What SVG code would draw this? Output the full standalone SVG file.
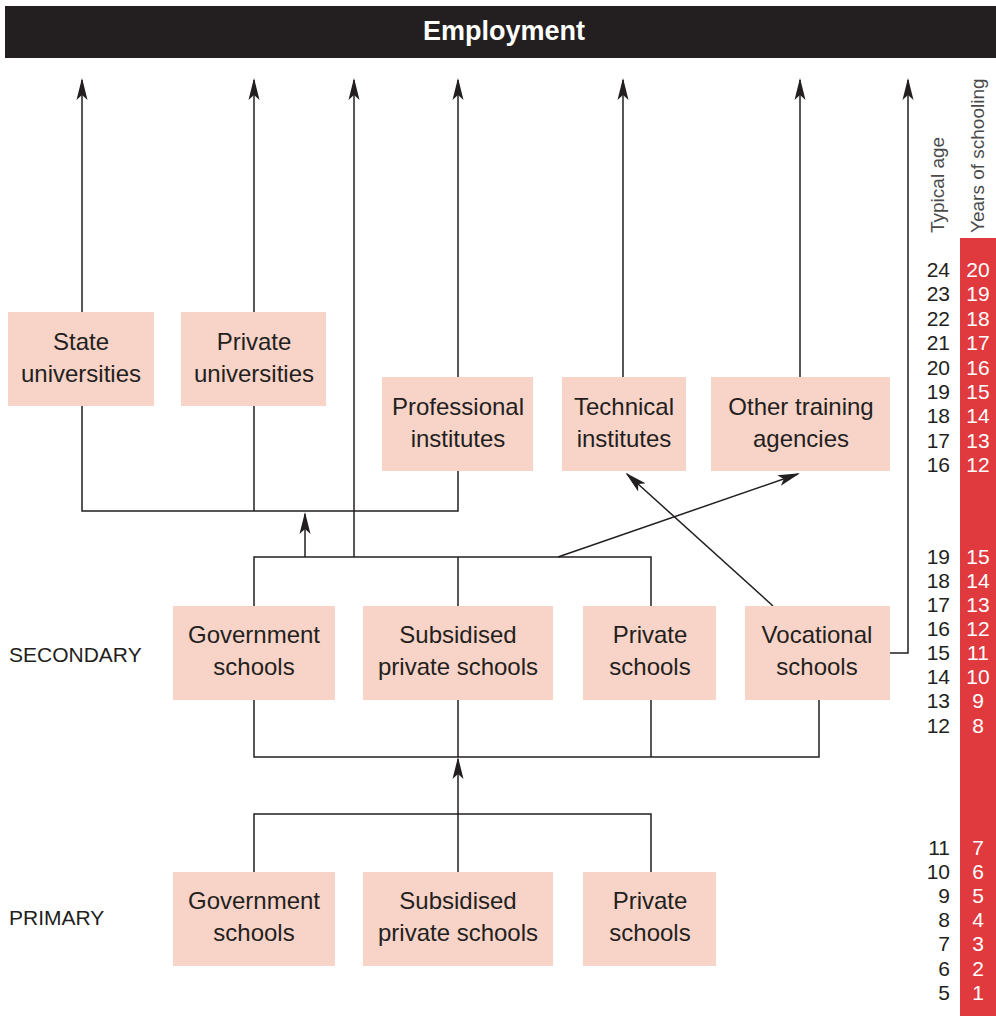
<svg xmlns="http://www.w3.org/2000/svg" width="996" height="1016" viewBox="0 0 996 1016">
<style>
.node rect{fill:#f8d3c8}
.nt{font-family:"Liberation Sans","DejaVu Sans",sans-serif;font-size:24px;fill:#231f20;text-anchor:middle}
.lbl{font-family:"Liberation Sans","DejaVu Sans",sans-serif;font-size:21px;fill:#231f20}
.age{font-family:"Liberation Sans","DejaVu Sans",sans-serif;font-size:21px;fill:#231f20;text-anchor:end}
.yr{font-family:"Liberation Sans","DejaVu Sans",sans-serif;font-size:21px;fill:#ffffff;text-anchor:middle}
.ax{font-family:"Liberation Sans","DejaVu Sans",sans-serif;font-size:19px;fill:#4a4a4a}
.c{stroke:#231f20;stroke-width:1.5;fill:none}
</style>
<defs>
<marker id="ah" markerWidth="22" markerHeight="12" refX="20" refY="6" orient="auto" markerUnits="userSpaceOnUse">
<path d="M22,6 L0,0.5 L5,6 L0,11.5 Z" fill="#231f20"/>
</marker>
</defs>
<g id="employment">
<rect x="5" y="6" width="991" height="52" fill="#231f20"/>
<text x="504" y="40" font-family="Liberation Sans, DejaVu Sans, sans-serif" font-size="27" font-weight="bold" fill="#ffffff" text-anchor="middle">Employment</text>
</g>
<g id="connectors">
<line class="c" x1="82" y1="312" x2="82" y2="80" marker-end="url(#ah)"/>
<line class="c" x1="254" y1="312" x2="254" y2="80" marker-end="url(#ah)"/>
<line class="c" x1="354" y1="557" x2="354" y2="80" marker-end="url(#ah)"/>
<line class="c" x1="458" y1="377" x2="458" y2="80" marker-end="url(#ah)"/>
<line class="c" x1="623" y1="377" x2="623" y2="80" marker-end="url(#ah)"/>
<line class="c" x1="800" y1="377" x2="800" y2="80" marker-end="url(#ah)"/>
<polyline class="c" points="890,653 908,653 908,80" marker-end="url(#ah)"/>
<polyline class="c" points="82,406 82,511 458,511 458,471"/>
<line class="c" x1="254" y1="406" x2="254" y2="511"/>
<line class="c" x1="305" y1="557" x2="305" y2="514" marker-end="url(#ah)"/>
<polyline class="c" points="254,606 254,557 651,557 651,606"/>
<line class="c" x1="458" y1="557" x2="458" y2="606"/>
<line class="c" x1="558" y1="557" x2="798" y2="474" marker-end="url(#ah)"/>
<line class="c" x1="773" y1="606" x2="627" y2="474" marker-end="url(#ah)"/>
<polyline class="c" points="254,700 254,757 819,757 819,700"/>
<line class="c" x1="458" y1="700" x2="458" y2="757"/>
<line class="c" x1="651" y1="700" x2="651" y2="757"/>
<line class="c" x1="458" y1="872" x2="458" y2="759" marker-end="url(#ah)"/>
<polyline class="c" points="254,872 254,814 651,814 651,872"/>
</g>
<g id="state-universities" class="node"><rect x="8" y="312" width="146" height="94"/><text class="nt" x="81" y="350">State</text><text class="nt" x="81" y="382">universities</text></g>
<g id="private-universities" class="node"><rect x="181" y="312" width="145" height="94"/><text class="nt" x="254" y="350">Private</text><text class="nt" x="254" y="382">universities</text></g>
<g id="professional-institutes" class="node"><rect x="382" y="377" width="151" height="94"/><text class="nt" x="458" y="415">Professional</text><text class="nt" x="458" y="447">institutes</text></g>
<g id="technical-institutes" class="node"><rect x="562" y="377" width="124" height="94"/><text class="nt" x="624" y="415">Technical</text><text class="nt" x="624" y="447">institutes</text></g>
<g id="other-training" class="node"><rect x="711" y="377" width="179" height="94"/><text class="nt" x="801" y="415">Other training</text><text class="nt" x="801" y="447">agencies</text></g>
<g id="sec-government" class="node"><rect x="173" y="606" width="162" height="94"/><text class="nt" x="254" y="643">Government</text><text class="nt" x="254" y="675">schools</text></g>
<g id="sec-subsidised" class="node"><rect x="363" y="606" width="190" height="94"/><text class="nt" x="458" y="643">Subsidised</text><text class="nt" x="458" y="675">private schools</text></g>
<g id="sec-private" class="node"><rect x="583" y="606" width="133" height="94"/><text class="nt" x="650" y="643">Private</text><text class="nt" x="650" y="675">schools</text></g>
<g id="sec-vocational" class="node"><rect x="745" y="606" width="145" height="94"/><text class="nt" x="817" y="643">Vocational</text><text class="nt" x="817" y="675">schools</text></g>
<g id="pri-government" class="node"><rect x="173" y="872" width="162" height="94"/><text class="nt" x="254" y="909">Government</text><text class="nt" x="254" y="941">schools</text></g>
<g id="pri-subsidised" class="node"><rect x="363" y="872" width="190" height="94"/><text class="nt" x="458" y="909">Subsidised</text><text class="nt" x="458" y="941">private schools</text></g>
<g id="pri-private" class="node"><rect x="583" y="872" width="133" height="94"/><text class="nt" x="650" y="909">Private</text><text class="nt" x="650" y="941">schools</text></g>
<g id="labels">
<text class="lbl" x="9" y="662">SECONDARY</text>
<text class="lbl" x="9" y="925">PRIMARY</text>
</g>
<g id="scale">
<rect x="960" y="238" width="36" height="778" fill="#e03a3e"/>
<text class="ax" transform="translate(944,233) rotate(-90)">Typical age</text>
<text class="ax" transform="translate(984,233) rotate(-90)">Years of schooling</text>
<g class="age-col">
<text class="age" x="950" y="277">24</text><text class="age" x="950" y="301">23</text><text class="age" x="950" y="326">22</text><text class="age" x="950" y="350">21</text><text class="age" x="950" y="375">20</text><text class="age" x="950" y="399">19</text><text class="age" x="950" y="423">18</text><text class="age" x="950" y="448">17</text><text class="age" x="950" y="472">16</text>
<text class="age" x="950" y="564">19</text><text class="age" x="950" y="588">18</text><text class="age" x="950" y="612">17</text><text class="age" x="950" y="636">16</text><text class="age" x="950" y="660">15</text><text class="age" x="950" y="684">14</text><text class="age" x="950" y="708">13</text><text class="age" x="950" y="733">12</text>
<text class="age" x="950" y="855">11</text><text class="age" x="950" y="879">10</text><text class="age" x="950" y="903">9</text><text class="age" x="950" y="927">8</text><text class="age" x="950" y="951">7</text><text class="age" x="950" y="976">6</text><text class="age" x="950" y="1000">5</text>
</g>
<g class="yr-col">
<text class="yr" x="978" y="277">20</text><text class="yr" x="978" y="301">19</text><text class="yr" x="978" y="326">18</text><text class="yr" x="978" y="350">17</text><text class="yr" x="978" y="375">16</text><text class="yr" x="978" y="399">15</text><text class="yr" x="978" y="423">14</text><text class="yr" x="978" y="448">13</text><text class="yr" x="978" y="472">12</text>
<text class="yr" x="978" y="564">15</text><text class="yr" x="978" y="588">14</text><text class="yr" x="978" y="612">13</text><text class="yr" x="978" y="636">12</text><text class="yr" x="978" y="660">11</text><text class="yr" x="978" y="684">10</text><text class="yr" x="978" y="708">9</text><text class="yr" x="978" y="733">8</text>
<text class="yr" x="978" y="855">7</text><text class="yr" x="978" y="879">6</text><text class="yr" x="978" y="903">5</text><text class="yr" x="978" y="927">4</text><text class="yr" x="978" y="951">3</text><text class="yr" x="978" y="976">2</text><text class="yr" x="978" y="1000">1</text>
</g>
</g>
</svg>
